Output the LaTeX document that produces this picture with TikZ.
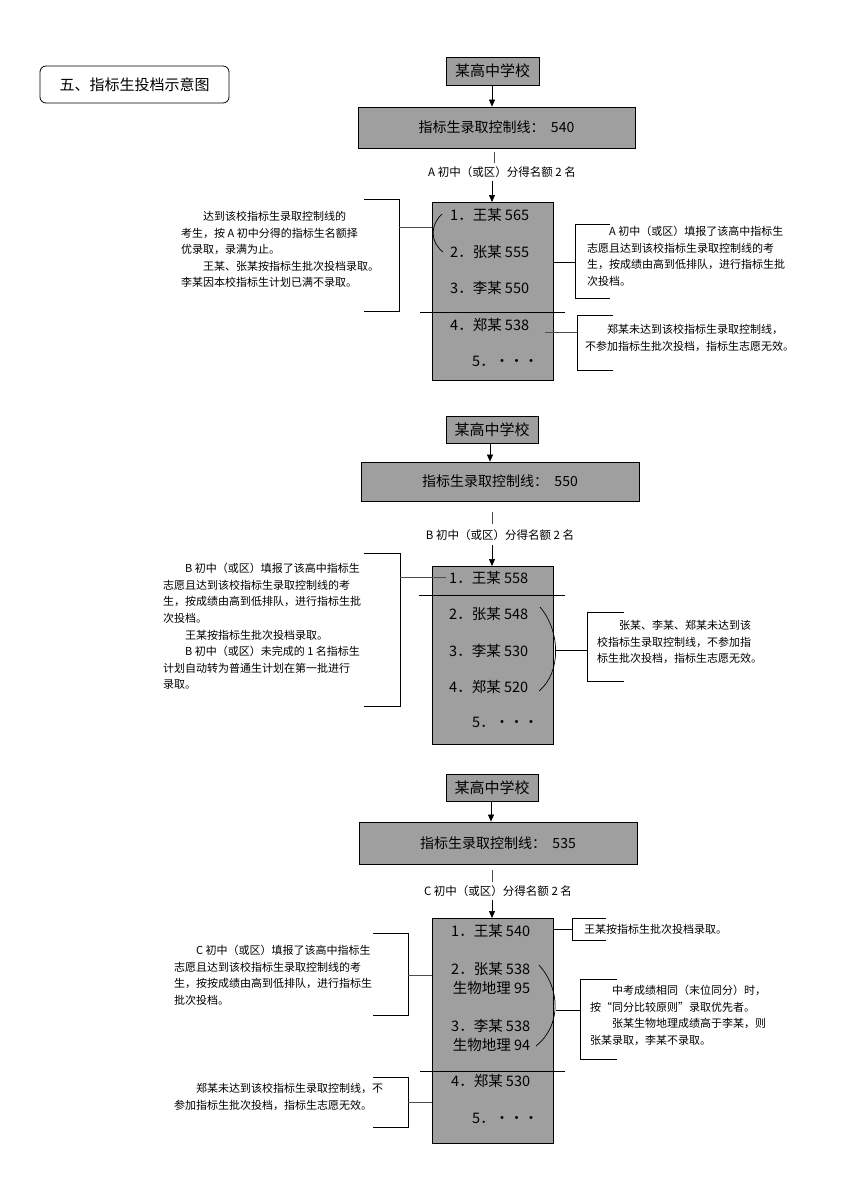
\documentclass[tikz,border=0pt]{standalone}
\usepackage{fontspec}
\setmainfont{Noto Sans CJK SC}
\usetikzlibrary{arrows.meta}
\tikzset{
 gbox/.style={draw=black,fill=gray!75,line width=0.8pt,inner sep=0pt},
 txt/.style={anchor=north west,align=left,inner sep=0pt,font=\fontsize{11}{16.6}\selectfont},
 item/.style={anchor=west,inner sep=0pt,font=\fontsize{14.5}{19}\selectfont},
 lab/.style={inner sep=0pt,font=\fontsize{11.5}{14}\selectfont},
 arr/.style={-{Triangle[length=7pt,width=6pt]},line width=0.7pt},
 ln/.style={line width=0.7pt},
 cl/.style={line width=0.9pt,gray!60!black}
}
\newcommand{\ind}{\hspace*{2em}}
\begin{document}
\begin{tikzpicture}[x=1pt,y=-1pt]
\useasboundingbox (0,0) rectangle (864,1184);
% title
\node[draw,rounded corners=6pt,line width=0.8pt,minimum width=189pt,minimum height=37pt,font=\fontsize{15}{18}\selectfont] (title) at (134.5,84.5) {五、指标生投档示意图};

% ===== Diagram 1 =====
\node[gbox,minimum width=93pt,minimum height=28pt,font=\fontsize{15}{18}\selectfont] (s1) at (492.5,71) {某高中学校};
\node[gbox,minimum width=277pt,minimum height=41pt,font=\fontsize{14}{18}\selectfont] (c1) at (496.5,127.5) {指标生录取控制线：\ \ 540};
\draw[arr] (s1.south -| 492,0) -- (c1.north -| 492,0);
\node[lab] (l1) at (502,172) {A 初中（或区）分得名额 2 名};
\draw[cl] (494,152) -- (494,163);
\draw[gbox] (432,202) rectangle (553,380);
\coordinate (b1top) at (492,202);
\draw[arr] (492,181) -- (b1top);
\node[item] (a1) at (450,215) {1．王某 565};
\node[item] (a2) at (450,252) {2．张某 555};
\node[item] (a3) at (450,288) {3．李某 550};
\node[item] (a4) at (450,325) {4．郑某 538};
\node[item] (a5) at (472,361) {5．···};
\draw[ln] (420,312) -- (565,312);
\draw[ln] (442,214) .. controls (430,225) and (430,242) .. (443,252);
\draw[ln] (364,199) -- (399,199) -- (399,311) -- (364,311);
\draw[cl] (399,227) -- (432,227);
\node[txt] (t1) at (181,211) {\ind 达到该校指标生录取控制线的\\考生，按 A 初中分得的指标生名额择\\优录取，录满为止。\\\ind 王某、张某按指标生批次投档录取。\\李某因本校指标生计划已满不录取。};
\draw[ln] (610,224) -- (575,224) -- (575,298) -- (610,298);
\draw[ln] (553,262) -- (575,262);
\node[txt] (t2) at (587,226) {\ind A 初中（或区）填报了该高中指标生\\志愿且达到该校指标生录取控制线的考\\生，按成绩由高到低排队，进行指标生批\\次投档。};
\draw[ln] (613,315) -- (577,315) -- (577,370) -- (613,370);
\draw[cl] (545,332) -- (577,332);
\node[txt] (t3) at (585,324) {\ind 郑某未达到该校指标生录取控制线，\\不参加指标生批次投档，指标生志愿无效。};

% ===== Diagram 2 =====
\node[gbox,minimum width=92pt,minimum height=27pt,font=\fontsize{15}{18}\selectfont] (s2) at (492,429.5) {某高中学校};
\node[gbox,minimum width=278pt,minimum height=39pt,font=\fontsize{14}{18}\selectfont] (c2) at (500,481.5) {指标生录取控制线：\ \ 550};
\draw[arr] (s2.south -| 490,0) -- (c2.north -| 490,0);
\draw[cl] (492,512) -- (492,524);
\node[lab] (l2) at (500,535) {B 初中（或区）分得名额 2 名};
\draw[gbox] (432,566) rectangle (553,744);
\coordinate (b2top) at (492,566);
\draw[arr] (492,545) -- (b2top);
\node[item] (b1) at (449,578) {1．王某 558};
\node[item] (b2) at (449,614) {2．张某 548};
\node[item] (b3) at (449,651) {3．李某 530};
\node[item] (b4) at (449,687) {4．郑某 520};
\node[item] (b5) at (472,722) {5．···};
\draw[ln] (419,595) -- (565,595);
\draw[ln] (540,607) .. controls (560,630) and (562,672) .. (539,691);
\draw[ln] (364,553) -- (400,553) -- (400,706) -- (364,706);
\draw[cl] (400,577) -- (446,577);
\node[txt] (t4) at (163,563) {\ind B 初中（或区）填报了该高中指标生\\志愿且达到该校指标生录取控制线的考\\生，按成绩由高到低排队，进行指标生批\\次投档。\\\ind 王某按指标生批次投档录取。\\\ind B 初中（或区）未完成的 1 名指标生\\计划自动转为普通生计划在第一批进行\\录取。};
\draw[ln] (624,612) -- (587,612) -- (587,681) -- (624,681);
\draw[ln] (555,650) -- (587,650);
\node[txt] (t5) at (597,620) {\ind 张某、李某、郑某未达到该\\校指标生录取控制线，不参加指\\标生批次投档，指标生志愿无效。};

% ===== Diagram 3 =====
\node[gbox,minimum width=92pt,minimum height=27pt,font=\fontsize{15}{18}\selectfont] (s3) at (492,787.5) {某高中学校};
\node[gbox,minimum width=278pt,minimum height=42pt,font=\fontsize{14}{18}\selectfont] (c3) at (498,843) {指标生录取控制线：\ \ 535};
\draw[arr] (s3.south -| 491,0) -- (c3.north -| 491,0);
\draw[cl] (492,870) -- (492,882);
\node[lab] (l3) at (498,891) {C 初中（或区）分得名额 2 名};
\draw[gbox] (432,918) rectangle (553,1143);
\coordinate (b3top) at (492,918);
\draw[arr] (492,900) -- (b3top);
\node[item] (c1i) at (451,931) {1．王某 540};
\node[item,align=right,font=\fontsize{14.5}{19}\selectfont] (c2i) at (451,978) {2．张某 538\\生物地理 95};
\node[item,align=right,font=\fontsize{14.5}{19}\selectfont] (c3i) at (451,1035) {3．李某 538\\生物地理 94};
\node[item] (c4i) at (451,1081) {4．郑某 530};
\node[item] (c5i) at (472,1118) {5．···};
\draw[ln] (420,1071) -- (565,1071);
\draw[ln] (539,965) .. controls (560,988) and (562,1025) .. (536,1046);
\draw[ln] (606,918) -- (572,918) -- (572,940) -- (606,940);
\draw[ln] (553,929) -- (572,929);
\node[txt,anchor=west] (t6) at (584,929) {王某按指标生批次投档录取。};
\draw[ln] (373,933) -- (408,933) -- (408,1015) -- (373,1015);
\draw[cl] (408,975) -- (432,975);
\node[txt] (t7) at (174,945) {\ind C 初中（或区）填报了该高中指标生\\志愿且达到该校指标生录取控制线的考\\生，按按成绩由高到低排队，进行指标生\\批次投档。};
\draw[ln] (617,979) -- (580,979) -- (580,1059) -- (617,1059);
\draw[ln] (556,1010) -- (580,1010);
\node[txt] (t8) at (590,985) {\ind 中考成绩相同（末位同分）时，\\按“同分比较原则”录取优先者。\\\ind 张某生物地理成绩高于李某，则\\张某录取，李某不录取。};
\draw[ln] (373,1077) -- (408,1077) -- (408,1127) -- (373,1127);
\draw[cl] (408,1102) -- (432,1102);
\node[txt] (t9) at (174,1083) {\ind 郑某未达到该校指标生录取控制线，不\\参加指标生批次投档，指标生志愿无效。};
\end{tikzpicture}
\end{document}
